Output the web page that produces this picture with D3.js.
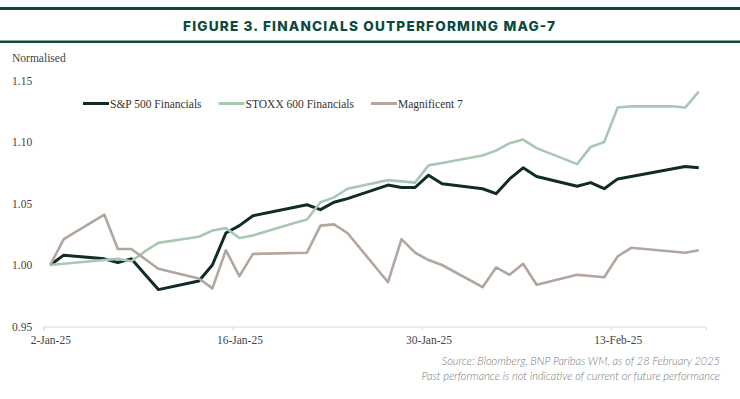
<!DOCTYPE html>
<html>
<head>
<meta charset="utf-8">
<script src="https://cdn.jsdelivr.net/npm/d3@7"></script>
<style>
  body { margin: 0; background: #fff; }
  svg { display: block; }
</style>
</head>
<body>
<svg></svg>
<script>
// trading days shown on the chart
var dates = [
	"2025-01-02", "2025-01-03", "2025-01-06", "2025-01-07", "2025-01-08", "2025-01-09", "2025-01-10",
	"2025-01-13", "2025-01-14", "2025-01-15", "2025-01-16", "2025-01-17",
	"2025-01-20", "2025-01-21", "2025-01-22", "2025-01-23", "2025-01-24",
	"2025-01-27", "2025-01-28", "2025-01-29", "2025-01-30", "2025-01-31",
	"2025-02-03", "2025-02-04", "2025-02-05", "2025-02-06", "2025-02-07",
	"2025-02-10", "2025-02-11", "2025-02-12", "2025-02-13", "2025-02-14",
	"2025-02-17", "2025-02-18", "2025-02-19"
];

// null = market closed that day (line joins across)
var spFinancials = [
	1.000, 1.008, 1.005, 1.002, 1.005, null, 0.980,
	0.987, 1.000, 1.026, 1.032, 1.040,
	null, 1.049, 1.045, 1.051, 1.054,
	1.065, 1.063, 1.063, 1.073, 1.066,
	1.062, 1.058, 1.070, 1.079, 1.072,
	1.064, 1.067, 1.062, 1.070, 1.072,
	null, 1.080, 1.079
];
var stoxxFinancials = [
	1.000, 1.001, 1.004, 1.005, 1.003, 1.011, 1.018,
	1.023, 1.028, 1.030, 1.022, 1.024,
	1.034, 1.037, 1.051, 1.055, 1.062,
	1.069, 1.068, 1.067, 1.081, 1.083,
	1.089, 1.093, 1.099, 1.102, 1.095,
	1.082, 1.096, 1.100, 1.128, 1.129,
	1.129, 1.128, 1.141
];
var magnificent7 = [
	1.000, 1.021, 1.041, 1.013, 1.013, null, 0.997,
	0.989, 0.981, 1.012, 0.991, 1.009,
	null, 1.010, 1.032, 1.033, 1.026,
	0.986, 1.021, 1.010, 1.004, 1.000,
	0.982, 0.998, 0.992, 1.001, 0.984,
	0.992, 0.991, 0.990, 1.007, 1.014,
	null, 1.010, 1.012
];

var seriesNames = ["S&P 500 Financials", "STOXX 600 Financials", "Magnificent 7"];
var seriesColors = ["#102c25", "#a9c8b2", "#b2a69f"];
var yTicks = [0.95, 1.00, 1.05, 1.10, 1.15];
var xTicks = ["2025-01-02", "2025-01-16", "2025-01-30", "2025-02-13"];

var width = 740;
var height = 399;
var green = "#0d4a3d";
var serif = "'Liberation Serif', 'DejaVu Serif', serif";

var parseDay = d3.utcParse("%Y-%m-%d");
var dayMs = 24 * 3600 * 1000;

var x = d3.scaleUtc()
	.domain([parseDay("2025-01-02"), parseDay("2025-02-20")])
	.range([43.5, 705.5]);
var y = d3.scaleLinear()
	.domain([0.95, 1.15])
	.range([326.5, 80.5]);

var svg = d3.select('svg')
	.attr("width", width)
	.attr("height", height);

// header rules + title
svg.append("rect").attr("x", 0).attr("y", 7).attr("width", width).attr("height", 3).attr("fill", green);
svg.append("rect").attr("x", 0).attr("y", 40.5).attr("width", width).attr("height", 2.5).attr("fill", green);
svg.append("text")
	.attr("x", 369)
	.attr("y", 30.5)
	.attr("text-anchor", "middle")
	.attr("textLength", 372)
	.attr("lengthAdjust", "spacing")
	.style("font-family", "Inter, Lato, sans-serif")
	.style("font-weight", 800)
	.style("font-size", "13.6px")
	.style("fill", green)
	.text("FIGURE 3. FINANCIALS OUTPERFORMING MAG-7");

svg.append("text")
	.attr("x", 12)
	.attr("y", 62)
	.style("font-family", serif)
	.style("font-size", "11.5px")
	.style("fill", "#444")
	.text("Normalised");

// y axis: labels only
var yAxis = svg.append("g")
	.attr("transform", "translate(12,0)")
	.call(d3.axisLeft(y).tickValues(yTicks).tickSize(0).tickFormat(d3.format(".2f")));
yAxis.select(".domain").remove();
yAxis.selectAll("text")
	.attr("x", 0)
	.attr("text-anchor", "start")
	.style("font-family", serif)
	.style("font-size", "11.5px")
	.style("fill", "#444");

// x axis: ticks at day boundaries, labels centred on the day
var xAxis = svg.append("g")
	.attr("transform", "translate(0," + y(0.95) + ")")
	.call(d3.axisBottom(x)
		.tickValues(xTicks.map(parseDay))
		.tickSize(4)
		.tickFormat(d3.utcFormat("%-d-%b-%y")));
xAxis.select(".domain").attr("stroke", "#d9d9d9");
xAxis.selectAll(".tick line").attr("stroke", "#d9d9d9");
xAxis.selectAll("text")
	.attr("x", (x(dayMs) - x(0)) / 2)
	.attr("y", 9)
	.style("font-family", serif)
	.style("font-size", "11.5px")
	.style("fill", "#444");

// series lines
var allSeries = [spFinancials, stoxxFinancials, magnificent7];
var line = d3.line()
	.x(function (p) { return x(new Date(parseDay(p.date).getTime() + dayMs / 2)); })
	.y(function (p) { return y(p.value); });

allSeries.forEach(function (values, i) {
	var points = [];
	dates.forEach(function (d, j) {
		if (values[j] != null) points.push({ date: d, value: values[j] });
	});
	svg.append("path")
		.datum(points)
		.attr("fill", "none")
		.attr("stroke", seriesColors[i])
		.attr("stroke-width", i == 0 ? 3 : 2.6)
		.attr("stroke-linejoin", "round")
		.attr("d", line);
});

// legend
var lx = 83;
seriesNames.forEach(function (name, i) {
	svg.append("line")
		.attr("x1", lx).attr("x2", lx + 26)
		.attr("y1", 103.5).attr("y2", 103.5)
		.attr("stroke", seriesColors[i])
		.attr("stroke-width", 3);
	var t = svg.append("text")
		.attr("x", lx + 27)
		.attr("y", 107.5)
		.style("font-family", serif)
		.style("font-size", "11.5px")
		.style("fill", "#333")
		.text(name);
	lx += 27 + t.node().getComputedTextLength() + 17;
});

// source note
var notes = [
	"Source: Bloomberg, BNP Paribas WM, as of 28 February 2025",
	"Past performance is not indicative of current or future performance"
];
notes.forEach(function (n, i) {
	svg.append("text")
		.attr("x", 720)
		.attr("y", 364.5 + i * 15)
		.attr("text-anchor", "end")
		.style("font-family", "Lato, 'Open Sans', sans-serif")
		.style("font-style", "italic")
		.style("font-weight", 300)
		.style("font-size", "11px")
		.style("fill", "#777")
		.text(n);
});
</script>
</body>
</html>
